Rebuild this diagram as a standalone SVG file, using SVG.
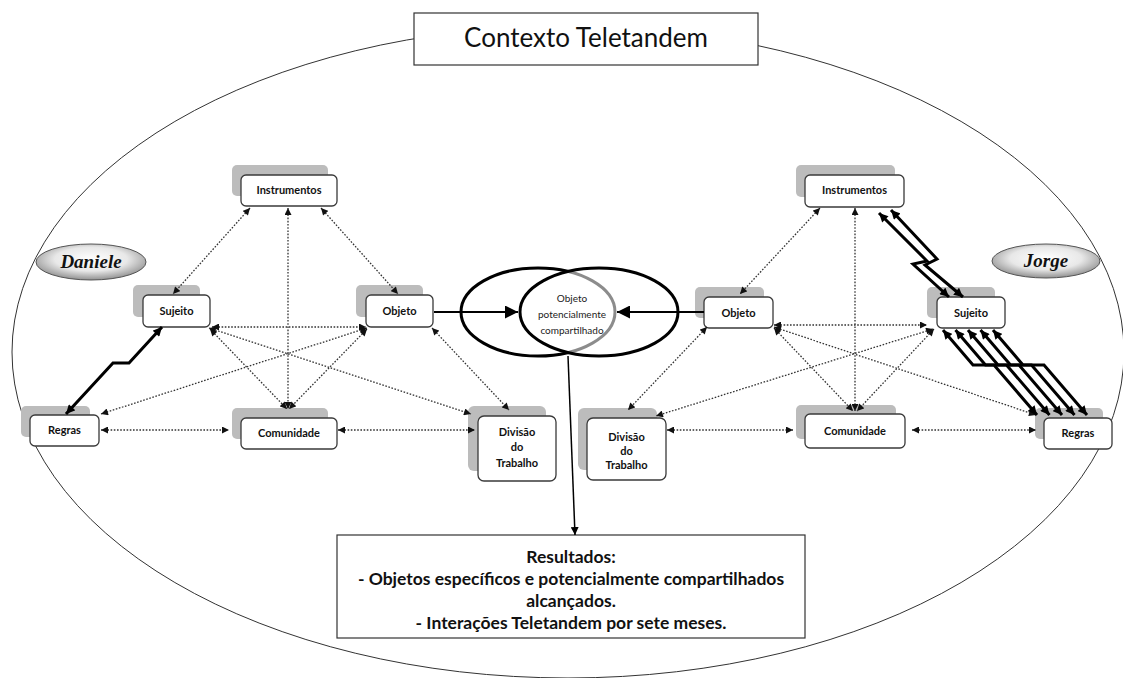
<svg xmlns="http://www.w3.org/2000/svg" width="1123" height="678" viewBox="0 0 1123 678">
<style>
.shadow{fill:#bcbcbc;}
.box{fill:#fff;stroke:#3a3a3a;stroke-width:1.3;}
.lbl{font-family:Lato,"Liberation Sans",sans-serif;font-weight:bold;font-size:11px;fill:#111;text-anchor:middle;}
.dot{fill:none;stroke:#333;stroke-width:1.3;stroke-dasharray:1.6 1.6;marker-start:url(#ad);marker-end:url(#ad);}
.thick{fill:none;stroke:#000;stroke-width:3;stroke-linejoin:miter;marker-start:url(#at);marker-end:url(#at);}
.name{font-family:"Liberation Serif",serif;font-weight:bold;font-style:italic;font-size:19px;fill:#111;text-anchor:middle;}
.res{font-family:Lato,"Liberation Sans",sans-serif;font-weight:bold;font-size:17.5px;fill:#111;text-anchor:middle;}
</style>
<defs>
<marker id="ad" viewBox="0 0 10 10" refX="10" refY="5" markerWidth="8" markerHeight="7" markerUnits="userSpaceOnUse" orient="auto-start-reverse"><path d="M0,0 L10,5 L0,10 z" fill="#111"/></marker>
<marker id="at" viewBox="0 0 10 10" refX="10" refY="5" markerWidth="10" markerHeight="9" markerUnits="userSpaceOnUse" orient="auto-start-reverse"><path d="M0,0 L10,5 L0,10 z" fill="#000"/></marker>
<marker id="ab" viewBox="0 0 10 10" refX="10" refY="5" markerWidth="15" markerHeight="13" markerUnits="userSpaceOnUse" orient="auto"><path d="M0,0 L10,5 L0,10 z" fill="#000"/></marker>
<marker id="as" viewBox="0 0 10 10" refX="10" refY="5" markerWidth="8" markerHeight="8" markerUnits="userSpaceOnUse" orient="auto"><path d="M0,0 L10,5 L0,10 z" fill="#000"/></marker>
<radialGradient id="gl" cx="50%" cy="42%" r="60%"><stop offset="0" stop-color="#ffffff"/><stop offset="0.55" stop-color="#e8e8e8"/><stop offset="1" stop-color="#8a8a8a"/></radialGradient>
</defs>

<rect x="0" y="0" width="1123" height="678" fill="#fff"/>
<ellipse id="contexto" cx="568" cy="352" rx="556" ry="326" fill="none" stroke="#333" stroke-width="1"/>

<g id="titulo">
<rect x="414" y="13" width="344" height="52" fill="#fff" stroke="#333" stroke-width="1.2"/>
<text x="586" y="47" font-family="Lato,'Liberation Sans',sans-serif" font-size="26" text-anchor="middle" fill="#111">Contexto Teletandem</text>
</g>

<g id="objeto-compartilhado">
<ellipse cx="538" cy="312" rx="77" ry="44" fill="none" stroke="#000" stroke-width="3"/>
<ellipse cx="599" cy="312" rx="79" ry="44" fill="#fff" fill-opacity="0.55" stroke="#000" stroke-width="3"/>
<text font-family="Lato,'Liberation Sans',sans-serif" font-size="10" text-anchor="middle" fill="#222">
<tspan x="572" y="302">Objeto</tspan><tspan x="572" y="318">potencialmente</tspan><tspan x="572" y="334">compartilhado</tspan></text>
</g>

<g id="daniele">
<ellipse cx="91" cy="262" rx="55" ry="18" fill="url(#gl)" stroke="#555" stroke-width="1"/>
<text class="name" x="91" y="268">Daniele</text>
</g>
<g id="jorge">
<ellipse cx="1046" cy="261" rx="54" ry="17" fill="url(#gl)" stroke="#555" stroke-width="1"/>
<text class="name" x="1046" y="267">Jorge</text>
</g>

<g id="instrumentos-l"><rect class="shadow" x="232" y="165" width="96" height="31" rx="5"/><rect class="box" x="241" y="175" width="96" height="31" rx="5"/><text class="lbl" x="289" y="194">Instrumentos</text></g>
<g id="sujeito-l"><rect class="shadow" x="133" y="285" width="67" height="32" rx="5"/><rect class="box" x="143" y="295" width="67" height="32" rx="5"/><text class="lbl" x="176.5" y="315">Sujeito</text></g>
<g id="objeto-l"><rect class="shadow" x="356" y="285" width="67" height="32" rx="5"/><rect class="box" x="366" y="295" width="67" height="32" rx="5"/><text class="lbl" x="399.5" y="315">Objeto</text></g>
<g id="regras-l"><rect class="shadow" x="21" y="406" width="69" height="31" rx="5"/><rect class="box" x="30" y="415" width="69" height="31" rx="5"/><text class="lbl" x="64.5" y="434">Regras</text></g>
<g id="comunidade-l"><rect class="shadow" x="232" y="408" width="96" height="31" rx="5"/><rect class="box" x="241" y="418" width="96" height="31" rx="5"/><text class="lbl" x="289" y="437">Comunidade</text></g>
<g id="divisao-l"><rect class="shadow" x="468" y="406" width="78" height="65" rx="6"/><rect class="box" x="478" y="416" width="78" height="65" rx="6"/><text class="lbl"><tspan x="517" y="436">Divisão</tspan><tspan x="517" y="451">do</tspan><tspan x="517" y="467">Trabalho</tspan></text></g>

<g id="instrumentos-r"><rect class="shadow" x="796" y="165" width="99" height="32" rx="5"/><rect class="box" x="805" y="175" width="99" height="32" rx="5"/><text class="lbl" x="854.5" y="194">Instrumentos</text></g>
<g id="objeto-r"><rect class="shadow" x="695" y="287" width="69" height="31" rx="5"/><rect class="box" x="704" y="297" width="69" height="31" rx="5"/><text class="lbl" x="738.5" y="317">Objeto</text></g>
<g id="sujeito-r"><rect class="shadow" x="927" y="287" width="68" height="31" rx="5"/><rect class="box" x="937" y="297" width="68" height="31" rx="5"/><text class="lbl" x="971" y="317">Sujeito</text></g>
<g id="divisao-r"><rect class="shadow" x="578" y="408" width="79" height="62" rx="6"/><rect class="box" x="587" y="418" width="79" height="62" rx="6"/><text class="lbl"><tspan x="626.5" y="441">Divisão</tspan><tspan x="626.5" y="455">do</tspan><tspan x="626.5" y="469">Trabalho</tspan></text></g>
<g id="comunidade-r"><rect class="shadow" x="796" y="405" width="100" height="34" rx="5"/><rect class="box" x="805" y="414" width="100" height="34" rx="5"/><text class="lbl" x="855" y="435">Comunidade</text></g>
<g id="regras-r"><rect class="shadow" x="1035" y="408" width="68" height="31" rx="5"/><rect class="box" x="1044" y="418" width="68" height="31" rx="5"/><text class="lbl" x="1078" y="437">Regras</text></g>

<g id="resultados">
<rect x="337" y="535" width="468" height="103" fill="#fff" stroke="#333" stroke-width="1.2"/>
<text class="res"><tspan x="571" y="563">Resultados:</tspan><tspan x="571" y="585">- Objetos específicos e potencialmente compartilhados</tspan><tspan x="571" y="607">alcançados.</tspan><tspan x="571" y="629">- Interações Teletandem por sete meses.</tspan></text>
</g>

<g id="connectors">
<!-- left system -->
<line class="dot" x1="250" y1="208" x2="173" y2="294"/>
<line class="dot" x1="321" y1="208" x2="398" y2="294"/>
<line class="dot" x1="288" y1="208" x2="288" y2="409"/>
<line class="dot" x1="212" y1="327" x2="366" y2="327"/>
<line class="dot" x1="209" y1="328" x2="471" y2="414"/>
<line class="dot" x1="367" y1="328" x2="101" y2="414"/>
<line class="dot" x1="210" y1="329" x2="287" y2="409"/>
<line class="dot" x1="367" y1="329" x2="289" y2="409"/>
<line class="dot" x1="432" y1="328" x2="509" y2="410"/>
<line class="dot" x1="101" y1="430" x2="229" y2="430"/>
<line class="dot" x1="338" y1="430" x2="475" y2="430"/>
<polyline class="thick" points="66,414 113,363 129,363 162,327"/>
<!-- right system -->
<line class="dot" x1="820" y1="208" x2="740" y2="294"/>
<line class="dot" x1="855" y1="208" x2="855" y2="411"/>
<line class="dot" x1="774" y1="325" x2="927" y2="325"/>
<line class="dot" x1="774" y1="327" x2="1036" y2="415"/>
<line class="dot" x1="933" y1="329" x2="656" y2="416"/>
<line class="dot" x1="707" y1="327" x2="628" y2="410"/>
<line class="dot" x1="774" y1="328" x2="853" y2="411"/>
<line class="dot" x1="934" y1="329" x2="857" y2="411"/>
<line class="dot" x1="667" y1="430" x2="793" y2="430"/>
<line class="dot" x1="912" y1="430" x2="1036" y2="430"/>
<polyline class="thick" points="879,213 927,261 913,264 949,297"/>
<polyline class="thick" points="891,210 937,259 925,265 963,297"/>
<polyline class="thick" points="943,330 973,365 994,365 1037,415"/>
<polyline class="thick" points="955.5,330 985.5,365 1006.5,365 1049.5,415"/>
<polyline class="thick" points="968,330 998,365 1019,365 1062,415"/>
<polyline class="thick" points="980.5,330 1010.5,365 1031.5,365 1074.5,415"/>
<polyline class="thick" points="993,330 1023,365 1044,365 1087,415"/>
<!-- to shared object and results -->
<line x1="434" y1="312" x2="518" y2="312" stroke="#000" stroke-width="2" marker-end="url(#ab)"/>
<line x1="704" y1="312" x2="617" y2="312" stroke="#000" stroke-width="2" marker-end="url(#ab)"/>
<line x1="568" y1="356" x2="575" y2="535" stroke="#000" stroke-width="1.5" marker-end="url(#as)"/>
</g>
</svg>
